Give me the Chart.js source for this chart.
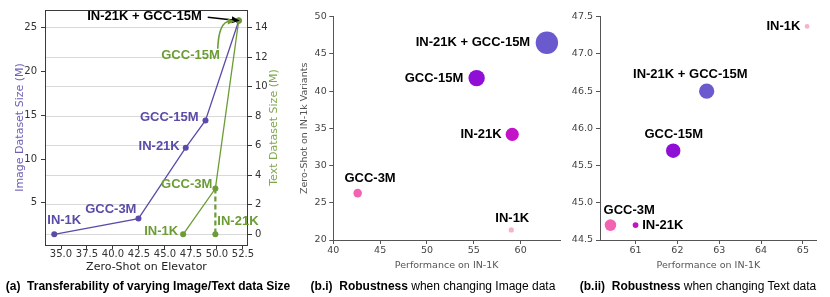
<!DOCTYPE html>
<html>
<head>
<meta charset="utf-8">
<script src="https://cdn.jsdelivr.net/npm/chart.js@4.4.1/dist/chart.umd.min.js"></script>
<style>
  body { margin: 0; background: #fff; }
  #wrap { position: relative; width: 830px; height: 297px; overflow: hidden; }
  #wrap canvas { position: absolute; left: 0; top: 0; }
  .cap { position: absolute; top: 279px; font-family: "Liberation Sans", Arial, sans-serif; font-size: 12px; line-height: 14px; color: #000; white-space: nowrap; text-align: center; }
</style>
</head>
<body>
<div id="wrap">
  <canvas id="chartA" width="830" height="297"></canvas>
  <canvas id="chartB1" width="830" height="297"></canvas>
  <canvas id="chartB2" width="830" height="297"></canvas>
  <div class="cap" style="left:3px; width:290px;"><b>(a)&nbsp; Transferability of varying Image/Text data Size</b></div>
  <div class="cap" style="left:306px; width:254px;"><b>(b.i)&nbsp; Robustness</b> when changing Image data</div>
  <div class="cap" style="left:572px; width:252px;"><b>(b.ii)&nbsp; Robustness</b> when changing Text data</div>
</div>
<script>
// (a) zero-shot on Elevator vs. size of the pre-training data
const imgNames = ["IN-1K", "GCC-3M", "IN-21K", "GCC-15M", "IN-21K + GCC-15M"];
const imgZeroShot = [34.35, 42.45, 47.0, 48.9, 52.1];
const imgSizeM = [1.4, 3.2, 11.3, 14.4, 25.8];

const txtNames = ["IN-1K", "GCC-3M", "GCC-15M"];
const txtZeroShot = [46.75, 49.85, 52.1];
const txtSizeM = [0, 3.1, 14.5];
const txtIn21kZeroShot = 49.85;
const txtIn21kSizeM = 0;

const zeroShotTicks = [35.0, 37.5, 40.0, 42.5, 45.0, 47.5, 50.0, 52.5];

// (b) robustness, same order for both panels
const robNames = ["IN-1K", "GCC-3M", "IN-21K", "GCC-15M", "IN-21K + GCC-15M"];
const imgPerfIN1K = [59.0, 42.6, 59.1, 55.3, 62.8];
const imgZeroShotVariants = [21.35, 26.3, 34.2, 41.75, 46.5];
const txtPerfIN1K = [65.1, 60.4, 61.0, 61.9, 62.7];
const txtZeroShotVariants = [47.37, 44.7, 44.7, 45.7, 46.5];

// styles
const robColors = ["#f7b3c4", "#f263b1", "#c214c6", "#8f0fd6", "#6a5acd"];
const radiiImage = [2.6, 4.3, 6.6, 8.2, 11.2];
const radiiText = [2.4, 5.8, 2.9, 7.2, 7.6];
const PURPLE = "#5b4aa8";
const GREEN = "#6b9c35";
const LABEL_FONT = 'bold 13px "Liberation Sans", Arial, sans-serif';

Chart.defaults.font.family = '"DejaVu Sans", sans-serif';
Chart.defaults.animation = false;
Chart.defaults.plugins.legend.display = false;
Chart.defaults.plugins.tooltip.enabled = false;
Chart.defaults.events = [];

function arrowHead(ctx, fromX, fromY, toX, toY, len, half) {
  const a = Math.atan2(toY - fromY, toX - fromX);
  ctx.beginPath();
  ctx.moveTo(toX, toY);
  ctx.lineTo(toX - len * Math.cos(a) + half * Math.sin(a), toY - len * Math.sin(a) - half * Math.cos(a));
  ctx.lineTo(toX - len * Math.cos(a) - half * Math.sin(a), toY - len * Math.sin(a) + half * Math.cos(a));
  ctx.closePath();
  ctx.fill();
}

// bold text next to points
const pointLabels = {
  id: "pointLabels",
  afterDatasetsDraw(chart, args, opts) {
    const ctx = chart.ctx;
    ctx.save();
    ctx.font = LABEL_FONT;
    ctx.textBaseline = "middle";
    (opts.items || []).forEach(it => {
      const el = chart.getDatasetMeta(it.ds).data[it.i];
      ctx.fillStyle = it.color || "#000";
      ctx.textAlign = it.align;
      ctx.fillText(it.text, el.x + it.dx, el.y + it.dy);
    });
    ctx.restore();
  }
};

// box, right-hand title and arrows for panel (a)
const panelAExtras = {
  id: "panelAExtras",
  beforeDatasetsDraw(chart) {
    const {ctx, chartArea: a} = chart;
    ctx.save();
    ctx.strokeStyle = "#3a3a3a";
    ctx.lineWidth = 1;
    ctx.strokeRect(Math.round(a.left) + 0.5, Math.round(a.top) + 0.5, Math.round(a.right - a.left) - 1, Math.round(a.bottom - a.top));
    ctx.restore();
  },
  afterDraw(chart) {
    const ctx = chart.ctx;
    const a = chart.chartArea;
    const top = chart.getDatasetMeta(0).data[imgNames.length - 1];
    ctx.save();
    ctx.translate(274, (a.top + a.bottom) / 2);
    ctx.rotate(-Math.PI / 2);
    ctx.font = '11px "DejaVu Sans", sans-serif';
    ctx.fillStyle = "#7fa64c";
    ctx.textAlign = "center";
    ctx.textBaseline = "middle";
    ctx.fillText("Text Dataset Size (M)", 0, 0);
    ctx.restore();

    ctx.save();
    // black straight arrow from the combined label
    ctx.strokeStyle = "#000";
    ctx.fillStyle = "#000";
    ctx.lineWidth = 1.5;
    const sx = top.x - 31, sy = top.y - 3.5;
    ctx.beginPath();
    ctx.moveTo(sx, sy);
    ctx.lineTo(top.x - 6, top.y - 0.6);
    ctx.stroke();
    arrowHead(ctx, sx, sy, top.x + 1, top.y, 8, 3.5);
    // green curved arrow from GCC-15M text label
    ctx.strokeStyle = GREEN;
    ctx.fillStyle = GREEN;
    ctx.lineWidth = 1.6;
    const gx = top.x - 21, gy = top.y + 28;
    const cx = top.x - 20, cy = top.y + 1;
    const ex = top.x - 4, ey = top.y + 0.5;
    ctx.beginPath();
    ctx.moveTo(gx, gy);
    ctx.quadraticCurveTo(cx, cy, ex - 5, ey);
    ctx.stroke();
    arrowHead(ctx, cx, cy, ex, ey, 7, 3.2);
    ctx.restore();
  }
};

const tickFont = size => ({ family: '"DejaVu Sans", sans-serif', size: size, lineHeight: 1 });

// ---------- (a) ----------
new Chart(document.getElementById("chartA"), {
  type: "scatter",
  data: {
    datasets: [
      {
        label: "Image",
        data: imgNames.map((n, i) => ({ x: imgZeroShot[i], y: imgSizeM[i] })),
        yAxisID: "y",
        order: 3,
        showLine: true,
        borderColor: PURPLE,
        backgroundColor: PURPLE,
        borderWidth: 1.3,
        pointRadius: 3,
        pointBorderWidth: 0
      },
      {
        label: "Text",
        data: txtNames.map((n, i) => ({ x: txtZeroShot[i], y: txtSizeM[i] })),
        yAxisID: "y1",
        order: 1,
        showLine: true,
        borderColor: GREEN,
        backgroundColor: GREEN,
        borderWidth: 1.3,
        pointRadius: 3,
        pointBorderWidth: 0
      },
      {
        label: "Text IN-21K",
        data: [{ x: txtZeroShot[1], y: txtSizeM[1] }, { x: txtIn21kZeroShot, y: txtIn21kSizeM }],
        yAxisID: "y1",
        order: 2,
        showLine: true,
        borderColor: GREEN,
        backgroundColor: GREEN,
        borderWidth: 2.2,
        borderDash: [5, 3],
        pointRadius: [0, 3],
        pointBorderWidth: 0
      }
    ]
  },
  options: {
    responsive: false,
    layout: { autoPadding: false, padding: { left: 0, top: 10, right: 550, bottom: 22 } },
    scales: {
      x: {
        type: "linear", min: 33.46, max: 52.99,
        afterBuildTicks: s => { s.ticks = zeroShotTicks.map(v => ({ value: v })); },
        ticks: { font: tickFont(10), color: "#333", padding: 0.5, maxRotation: 0, callback: v => v.toFixed(1) },
        grid: { drawOnChartArea: false, tickLength: 4, tickColor: "#3a3a3a" },
        border: { display: false },
        title: { display: true, text: "Zero-Shot on Elevator", color: "#222", font: { size: 11 }, padding: { top: 0, bottom: 1.6 } },
        afterFit: s => { s.height = 30; }
      },
      y: {
        type: "linear", position: "left", min: 0.18, max: 27.02,
        ticks: { stepSize: 5, includeBounds: false, font: tickFont(10), color: "#333", padding: 4 },
        grid: { drawOnChartArea: false, tickLength: 4, tickColor: "#3a3a3a" },
        border: { display: false },
        title: { display: true, text: "Image Dataset Size (M)", color: "#6d5fb6", font: { size: 11 }, padding: { top: 14, bottom: 0 } },
        afterFit: s => { s.width = 45; }
      },
      y1: {
        type: "linear", position: "right", min: -0.72, max: 15.2,
        ticks: { stepSize: 2, includeBounds: false, font: tickFont(10), color: "#333", padding: 3 },
        grid: { drawOnChartArea: true, color: "#d9d9d9", lineWidth: 1, tickLength: 4, tickColor: "#3a3a3a" },
        border: { display: false },
        afterFit: s => { s.width = 32; }
      }
    },
    plugins: {
      pointLabels: {
        items: [
          { ds: 0, i: 0, text: imgNames[0], color: PURPLE, align: "center", dx: 10, dy: -14 },
          { ds: 0, i: 1, text: imgNames[1], color: PURPLE, align: "right", dx: -2, dy: -9 },
          { ds: 0, i: 2, text: imgNames[2], color: PURPLE, align: "right", dx: -6, dy: -1 },
          { ds: 0, i: 3, text: imgNames[3], color: PURPLE, align: "right", dx: -7, dy: -3 },
          { ds: 0, i: 4, text: imgNames[4], color: "#000", align: "right", dx: -37, dy: -4.3 },
          { ds: 1, i: 0, text: txtNames[0], color: GREEN, align: "right", dx: -5, dy: -3 },
          { ds: 1, i: 1, text: txtNames[1], color: GREEN, align: "right", dx: -3, dy: -4 },
          { ds: 1, i: 2, text: txtNames[2], color: GREEN, align: "right", dx: -19, dy: 35 },
          { ds: 2, i: 1, text: "IN-21K", color: GREEN, align: "left", dx: 2, dy: -13 }
        ]
      }
    }
  },
  plugins: [pointLabels, panelAExtras]
});

// ---------- (b) shared options ----------
function robustnessChart(id, xs, ys, radii, area, xOpts, yOpts, labelItems) {
  return new Chart(document.getElementById(id), {
    type: "bubble",
    data: {
      datasets: [{
        data: robNames.map((n, i) => ({ x: xs[i], y: ys[i], r: radii[i] })),
        backgroundColor: robColors,
        borderWidth: 0
      }]
    },
    options: {
      responsive: false,
      layout: { autoPadding: false, padding: area.padding },
      scales: {
        x: Object.assign({
          type: "linear",
          ticks: { stepSize: xOpts.step, includeBounds: false, font: tickFont(9.5), color: "#444", padding: 2, maxRotation: 0 },
          grid: { drawOnChartArea: false, tickLength: 4, tickColor: "#555" },
          border: { display: true, color: "#555" },
          title: { display: true, text: "Performance on IN-1K", color: "#555", font: { size: 9.5 }, padding: { top: 0, bottom: 3.6 } },
          afterFit: s => { s.height = 35; }
        }, { min: xOpts.min, max: xOpts.max }),
        y: Object.assign({
          type: "linear",
          ticks: { stepSize: yOpts.step, includeBounds: false, font: tickFont(9.5), color: "#444", padding: yOpts.pad, callback: yOpts.fmt },
          grid: { drawOnChartArea: false, tickLength: 4, tickColor: "#555" },
          border: { display: true, color: "#555" },
          title: yOpts.title,
          afterFit: s => { s.width = area.yWidth; }
        }, { min: yOpts.min, max: yOpts.max })
      },
      plugins: { pointLabels: { items: labelItems } }
    },
    plugins: [pointLabels]
  });
}

// (b.i) robustness when changing image data
robustnessChart("chartB1", imgPerfIN1K, imgZeroShotVariants, radiiImage,
  { padding: { left: 288.3, top: 16.7, right: 270, bottom: 22 }, yWidth: 45 },
  { min: 40, max: 64.2, step: 5 },
  { min: 20, max: 50, step: 5, pad: 2.6, fmt: v => v,
    title: { display: true, text: "Zero-Shot on IN-1k Variants", color: "#555", font: { size: 9.5 }, padding: { top: 11, bottom: 0 } } },
  [
    { ds: 0, i: 0, text: robNames[0], align: "center", dx: 1, dy: -12 },
    { ds: 0, i: 1, text: robNames[1], align: "center", dx: 12.4, dy: -14.3 },
    { ds: 0, i: 2, text: robNames[2], align: "right", dx: -10.6, dy: 0 },
    { ds: 0, i: 3, text: robNames[3], align: "right", dx: -13.4, dy: 0 },
    { ds: 0, i: 4, text: robNames[4], align: "right", dx: -16.7, dy: 0 }
  ]);

// (b.ii) robustness when changing text data
robustnessChart("chartB2", txtPerfIN1K, txtZeroShotVariants, radiiText,
  { padding: { left: 560, top: 16.7, right: 13.3, bottom: 22 }, yWidth: 40 },
  { min: 60.15, max: 65.33, step: 1 },
  { min: 44.5, max: 47.5, step: 0.5, pad: 3, fmt: v => v.toFixed(1), title: { display: false } },
  [
    { ds: 0, i: 0, text: robNames[0], align: "right", dx: -6.7, dy: 0 },
    { ds: 0, i: 1, text: robNames[1], align: "center", dx: 18.7, dy: -15 },
    { ds: 0, i: 2, text: robNames[2], align: "left", dx: 6.7, dy: 0 },
    { ds: 0, i: 3, text: robNames[3], align: "center", dx: 0.5, dy: -16.4 },
    { ds: 0, i: 4, text: robNames[4], align: "center", dx: -16.4, dy: -16.7 }
  ]);
</script>
</body>
</html>
